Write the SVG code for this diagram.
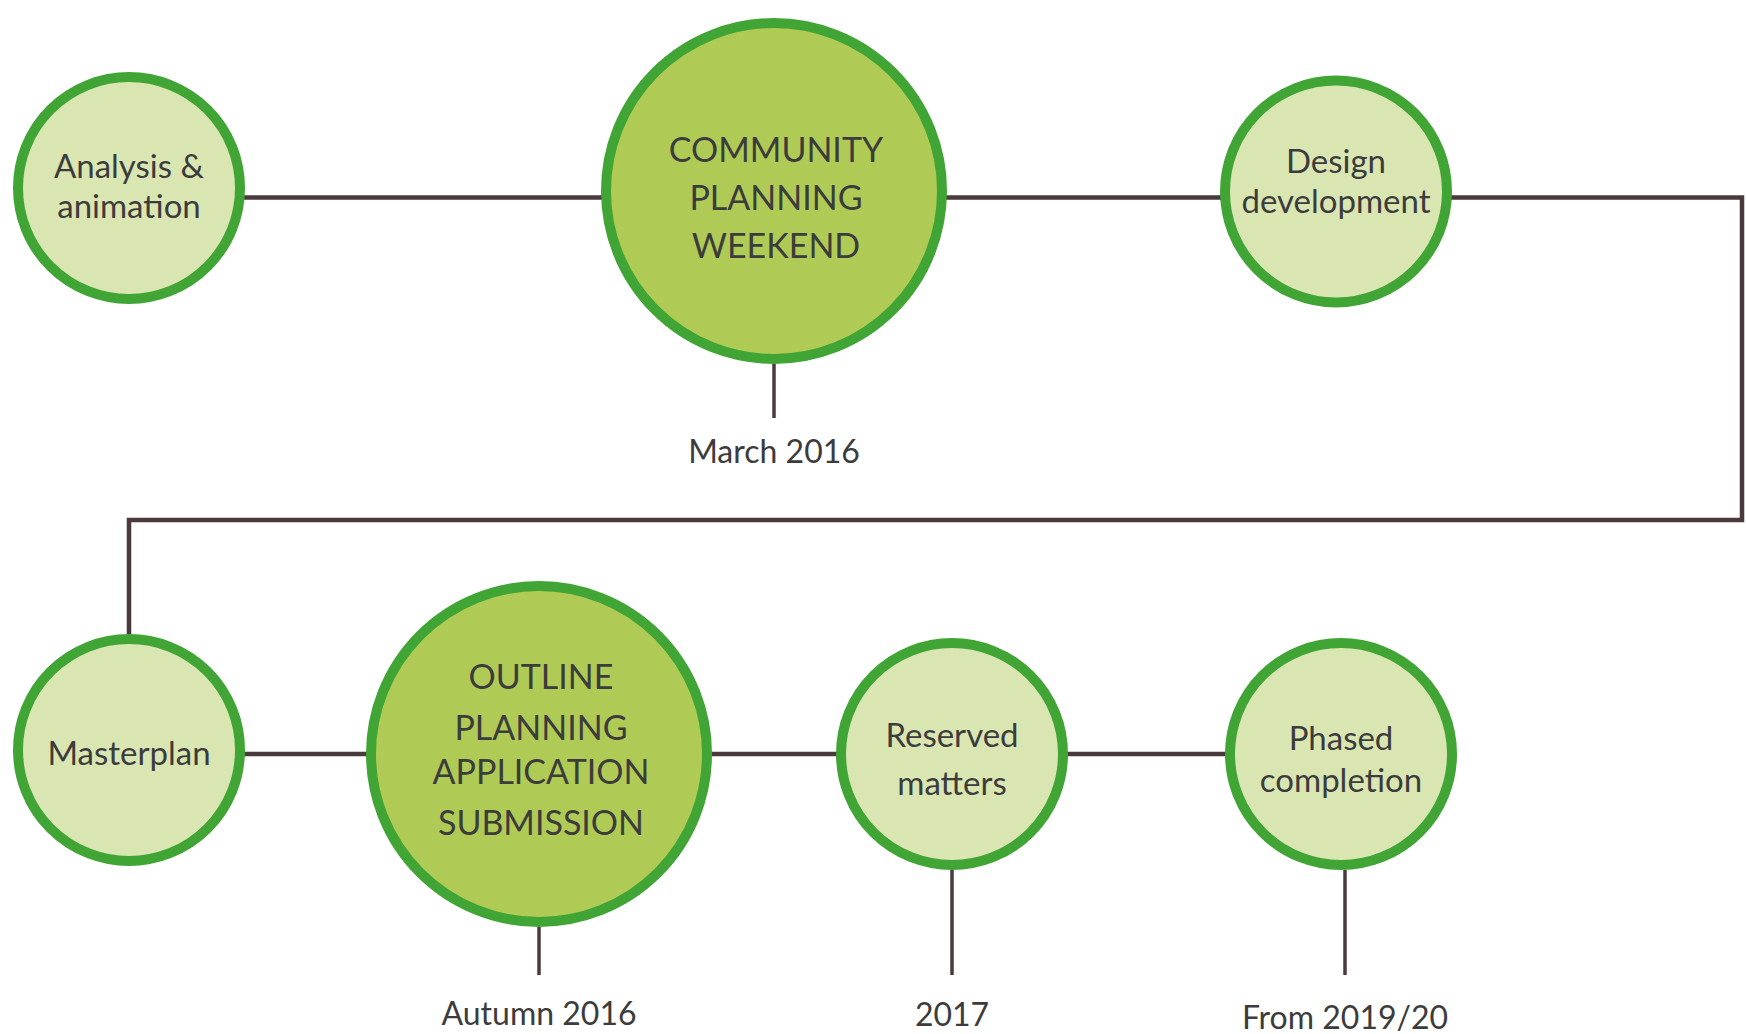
<svg xmlns="http://www.w3.org/2000/svg" width="1746" height="1034" viewBox="0 0 1746 1034">
<style>
.small{fill:#d9e6b2;stroke:#40a535;stroke-width:10}
.big{fill:#afcb55;stroke:#40a535;stroke-width:10}
.conn{fill:none;stroke:#4b3a3b;stroke-width:4.5}
.stub{fill:none;stroke:#4b3a3b;stroke-width:3.5}
text{font-family:Lato,"Open Sans","DejaVu Sans",sans-serif;fill:#3c3c3c;text-anchor:middle}
.t{font-size:33px}
.c{font-size:34px}
.d{font-size:32px}
</style>
<rect width="1746" height="1034" fill="#ffffff"/>
<g id="connectors">
<path class="conn" d="M129,197.5 H1742 V520 H129 V634"/>
<path class="conn" d="M129,754 H1341"/>
<path class="stub" d="M774,364 V418"/>
<path class="stub" d="M539,927 V975"/>
<path class="stub" d="M952,870 V975"/>
<path class="stub" d="M1345,870 V975"/>
</g>
<g id="analysis">
<circle class="small" cx="129" cy="188" r="111"/>
<text class="t" x="129" y="178">Analysis &amp;</text>
<text class="t" x="129" y="218">animation</text>
</g>
<g id="community">
<circle class="big" cx="774" cy="191" r="168"/>
<text class="c" x="776" y="162">COMMUNITY</text>
<text class="c" x="776" y="210">PLANNING</text>
<text class="c" x="776" y="258">WEEKEND</text>
</g>
<g id="design">
<circle class="small" cx="1336" cy="191.5" r="111"/>
<text class="t" x="1336" y="173">Design</text>
<text class="t" x="1336" y="213">development</text>
</g>
<g id="march">
<text class="d" x="774" y="463">March 2016</text>
</g>
<g id="masterplan">
<circle class="small" cx="129" cy="750" r="111"/>
<text class="t" x="129" y="765">Masterplan</text>
</g>
<g id="outline">
<circle class="big" cx="539" cy="754" r="168"/>
<text class="c" x="541" y="689">OUTLINE</text>
<text class="c" x="541" y="740">PLANNING</text>
<text class="c" x="541" y="784">APPLICATION</text>
<text class="c" x="541" y="835">SUBMISSION</text>
</g>
<g id="reserved">
<circle class="small" cx="952" cy="754" r="111"/>
<text class="t" x="952" y="747">Reserved</text>
<text class="t" x="952" y="795">matters</text>
</g>
<g id="phased">
<circle class="small" cx="1341" cy="754" r="111"/>
<text class="t" x="1341" y="750">Phased</text>
<text class="t" x="1341" y="792">completion</text>
</g>
<g id="autumn">
<text class="d" x="539" y="1025">Autumn 2016</text>
</g>
<g id="y2017">
<text class="d" x="952" y="1026">2017</text>
</g>
<g id="from">
<text class="d" x="1345" y="1029">From 2019/20</text>
</g>
</svg>
